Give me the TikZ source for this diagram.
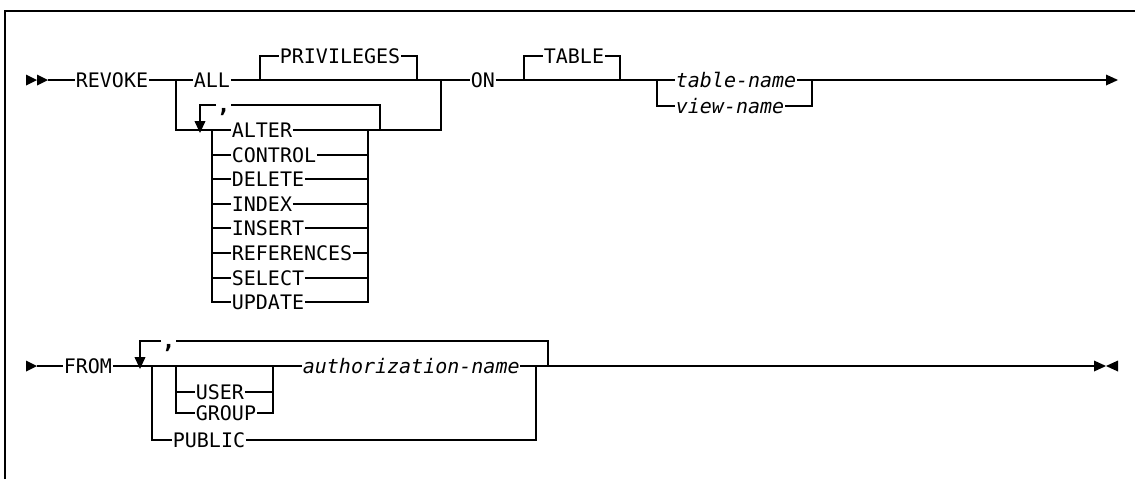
\documentclass[tikz,border=0pt]{standalone}
\usepackage{fontspec}
\setmonofont{DejaVu Sans Mono}
\usetikzlibrary{arrows.meta}
\begin{document}
\begin{tikzpicture}[x=0.75pt,y=-0.75pt,line width=1.3pt,
  kw/.style={anchor=west,inner sep=0pt,font=\fontsize{15}{18}\selectfont\ttfamily,text height=10.9pt,text depth=0pt},
  var/.style={kw,font=\fontsize{15}{18}\selectfont\ttfamily\itshape},
  commabox/.style={kw,font=\fontsize{17}{18}\selectfont\ttfamily\bfseries},
  rep/.style={-{Triangle[length=9pt,width=8pt]}}]
\useasboundingbox (0,0) rectangle (1135,479);
% frame
\draw[line width=1.1pt] (5,479) -- (5,11) -- (1135,11);
% ---------- line 1 ----------
\fill (26,74.5) -- (37,80) -- (26,85.5) -- cycle;
\fill (37,74.5) -- (48,80) -- (37,85.5) -- cycle;
\coordinate (st1) at (48,80);
\node[kw] (revoke) at (75,80) {REVOKE};
\coordinate (j1) at (176,80);
\node[kw] (all) at (193,80) {ALL};
\coordinate (j2) at (260,80);
\node[kw] (priv) at (279,56) {PRIVILEGES};
\coordinate (j3) at (417,80);
\coordinate (j4) at (441,80);
\node[kw] (on) at (470,80) {ON};
\coordinate (j5) at (524,80);
\node[kw] (table) at (543,56) {TABLE};
\coordinate (j6) at (620,80);
\coordinate (j7) at (657,80);
\node[var] (tname) at (675,80) {table-name};
\node[var] (vname) at (675,106) {view-name};
\coordinate (j8) at (812,80);
\coordinate (e1) at (1106,80);
\fill (1106,74.5) -- (1118,80) -- (1106,85.5) -- cycle;

\draw (st1) -- (revoke.west);
\draw (revoke.east) -- (all.west);
\draw (all.east) -- (on.west);
\draw (j2) |- (priv.west);
\draw (priv.east) -| (j3);
\draw (on.east) -- (tname.west);
\draw (j5) |- (table.west);
\draw (table.east) -| (j6);
\draw (j7) |- (vname.west);
\draw (vname.east) -| (j8);
\draw (tname.east) -- (e1);

% privilege list
\node[kw] (alter)   at (231,130) {ALTER};
\node[kw] (control) at (231,155) {CONTROL};
\node[kw] (delete)  at (231,179) {DELETE};
\node[kw] (index)   at (231,204) {INDEX};
\node[kw] (insert)  at (231,228) {INSERT};
\node[kw] (refs)    at (231,253) {REFERENCES};
\node[kw] (select)  at (231,278) {SELECT};
\node[kw] (update)  at (231,302) {UPDATE};
\coordinate (l1) at (212,130);
\coordinate (r1) at (368,130);
\draw (j1) |- (alter.west);
\draw (alter.east) -| (j4);
\draw (l1) |- (update.west);
\draw (update.east) -| (r1);
\foreach \n in {control,delete,index,insert,refs,select}{
  \draw (\n.west -| l1) -- (\n.west);
  \draw (\n.east) -- (\n.east -| r1);
}
% repeat loop
\node[commabox] (comma1) at (216,105) {,};
\coordinate (rp) at (380,130);
\coordinate (rt) at (380,105);
\coordinate (ra) at (200,133);
\draw (rp) -- (rt) -- (comma1.east);
\draw[rep] (comma1.west) -| (ra);

% ---------- line 2 ----------
\fill (26,360.5) -- (37,366) -- (26,371.5) -- cycle;
\coordinate (st2) at (37,366);
\node[kw] (from) at (63,366) {FROM};
\coordinate (k1) at (152,366);
\coordinate (k2) at (176,366);
\coordinate (k3) at (273,366);
\node[var] (auth) at (302,366) {authorization-name};
\coordinate (k4) at (536,366);
\coordinate (k5) at (548,366);
\coordinate (e2) at (1095,366);
\node[kw] (user)   at (195,392) {USER};
\node[kw] (group)  at (195,413) {GROUP};
\node[kw] (public) at (172,440) {PUBLIC};
\node[commabox] (comma2) at (161,341) {,};
\coordinate (rt2) at (548,341);
\coordinate (ra2) at (140,369);
\fill (1094,360.5) -- (1106,366) -- (1094,371.5) -- cycle;
\fill (1118,360.5) -- (1106,366) -- (1118,371.5) -- cycle;

\draw (st2) -- (from.west);
\draw (from.east) -- (auth.west);
\draw (auth.east) -- (e2);
\draw (k1) |- (public.west);
\draw (public.east) -| (k4);
\draw (k2) |- (group.west);
\draw (group.east) -| (k3);
\draw (user.west -| k2) -- (user.west);
\draw (user.east) -- (user.east -| k3);
\draw (k5) -- (rt2) -- (comma2.east);
\draw[rep] (comma2.west) -| (ra2);
\end{tikzpicture}
\end{document}
